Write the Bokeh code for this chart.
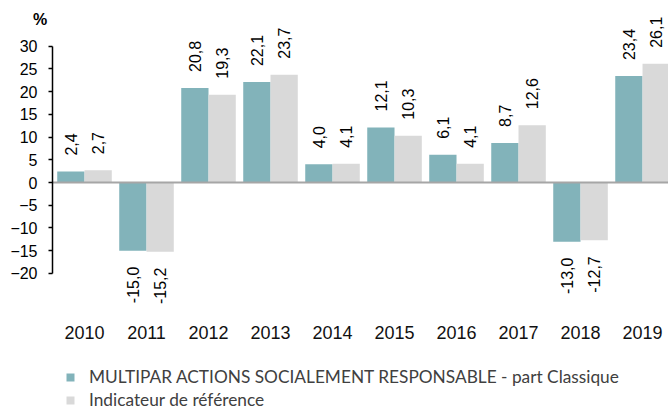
import math
from bokeh.plotting import figure
from bokeh.models import (ColumnDataSource, FixedTicker, Legend, LegendItem,
                          Label, Range1d)
from bokeh.core.properties import value
from bokeh.embed import file_html
from bokeh.resources import INLINE

# ---- data ----
years = ["2010", "2011", "2012", "2013", "2014", "2015", "2016", "2017", "2018", "2019"]
fund = [2.4, -15.0, 20.8, 22.1, 4.0, 12.1, 6.1, 8.7, -13.0, 23.4]
bench = [2.7, -15.2, 19.3, 23.7, 4.1, 10.3, 4.1, 12.6, -12.7, 26.1]
fund_name = "MULTIPAR ACTIONS SOCIALEMENT RESPONSABLE - part Classique"
bench_name = "Indicateur de référence"
y_ticks = [-20, -15, -10, -5, 0, 5, 10, 15, 20, 25, 30]

TEAL = "#82B3BA"
GREY = "#D9D9D9"
LABEL_FONT = "Liberation Sans"

idx = list(range(len(years)))
bw = 0.44

# layout of the data space (frame covers the whole canvas)
X0, X1 = -1.355, 9.419
Y0, Y1 = -50.14, 40.03
AXIS_X = -0.516      # where the value axis sits
AXIS_Y = -29.25      # where the category labels hang


def fmt(v):
    return f"{v:.1f}".replace(".", ",")


def make_src(vals, shift):
    xs = [i + shift for i in idx]
    return ColumnDataSource(dict(
        x=xs, top=vals,
        lab=[fmt(v) for v in vals],
        align=["left" if v >= 0 else "right" for v in vals],
        yoff=[-16 if v >= 0 else 16 for v in vals],
    ))


src_f = make_src(fund, -bw / 2)
src_b = make_src(bench, bw / 2)

p = figure(width=668, height=410, output_backend="svg", toolbar_location=None,
           title=None, x_range=Range1d(X0, X1), y_range=Range1d(Y0, Y1),
           min_border=0, min_border_left=0, min_border_right=0,
           min_border_top=0, min_border_bottom=0)
p.outline_line_color = None
p.xgrid.grid_line_color = None
p.ygrid.grid_line_color = None
p.background_fill_color = "white"

r_f = p.vbar(x="x", top="top", bottom=0, width=bw, source=src_f,
             fill_color=TEAL, line_color=None)
r_b = p.vbar(x="x", top="top", bottom=0, width=bw, source=src_b,
             fill_color=GREY, line_color=None)

# zero line from the value axis to the right edge
p.segment(x0=[AXIS_X], x1=[X1], y0=[0], y1=[0], line_color="#a6a6a6", line_width=2)

for src in (src_f, src_b):
    p.text(x="x", y="top", text="lab", source=src, angle=math.pi / 2,
           text_align="align", text_baseline="middle", y_offset="yoff",
           text_font=value(LABEL_FONT), text_font_size="16px", text_color="#000000")

# y axis
ya = p.yaxis[0]
ya.fixed_location = AXIS_X
ya.ticker = FixedTicker(ticks=y_ticks)
ya.bounds = (-20, 30)
ya.major_tick_out = 4
ya.major_tick_in = 0
ya.minor_tick_line_color = None
ya.axis_line_color = "black"
ya.axis_line_width = 1.5
ya.major_tick_line_width = 1.5
ya.major_label_standoff = 11
ya.major_label_text_font = LABEL_FONT
ya.major_label_text_font_size = "16px"
ya.major_label_text_color = "#000000"

# x axis
xa = p.xaxis[0]
xa.fixed_location = AXIS_Y
xa.ticker = FixedTicker(ticks=idx)
xa.major_label_overrides = {i: y for i, y in zip(idx, years)}
xa.axis_line_color = None
xa.major_tick_line_color = None
xa.minor_tick_line_color = None
xa.major_tick_out = 0
xa.major_label_standoff = 10
xa.major_label_text_font = LABEL_FONT
xa.major_label_text_font_size = "18px"
xa.major_label_text_font_style = "normal"
xa.major_label_text_color = "#111111"

p.add_layout(Label(x=-0.718, y=35.85, text="%", text_align="center", text_baseline="middle",
                   text_font=LABEL_FONT, text_font_size="16px", text_font_style="bold",
                   text_color="#000000"))

legend = Legend(items=[LegendItem(label=fund_name, renderers=[r_f]),
                       LegendItem(label=bench_name, renderers=[r_b])],
                location=(65, 0), padding=0, margin=0, spacing=2,
                glyph_width=10, glyph_height=10, label_height=20, label_standoff=14,
                label_text_font="Lato", label_text_font_size="17.3px",
                label_text_color="#404040", border_line_color=None,
                background_fill_alpha=0)
p.add_layout(legend, "center")

open("out.html", "w").write(file_html(p, INLINE))
